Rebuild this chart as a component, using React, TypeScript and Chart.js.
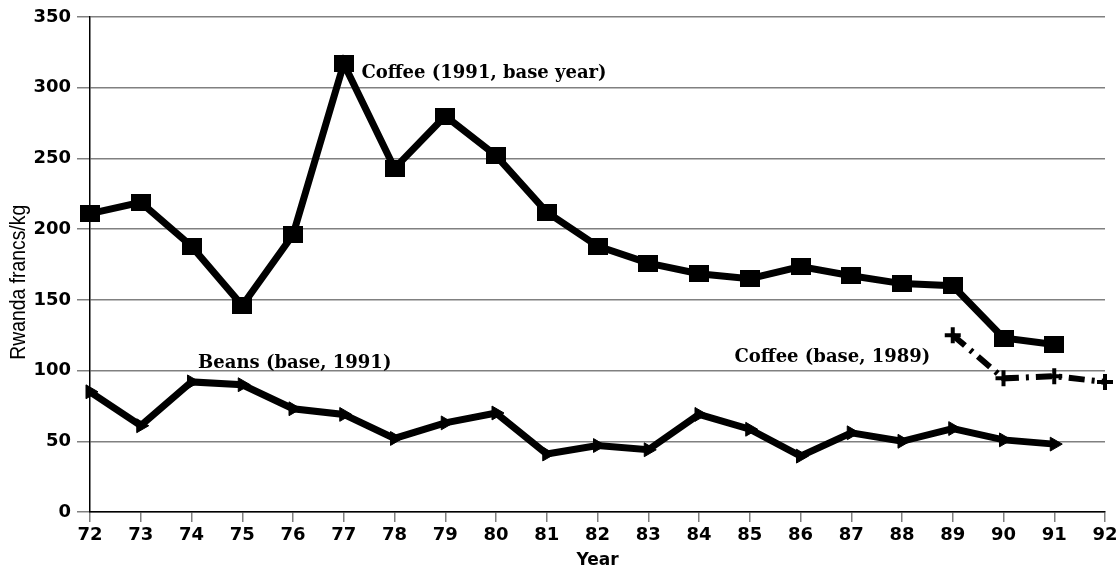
import React, { useEffect, useRef } from "react";
import { Chart, registerables } from "chart.js";

Chart.register(...registerables);

const years = [72, 73, 74, 75, 76, 77, 78, 79, 80, 81, 82, 83, 84, 85, 86, 87, 88, 89, 90, 91];
const coffee1991 = [211, 219, 188, 146, 196, 317, 243, 280, 252, 212, 188, 176, 168.5, 165, 173.5, 167, 161.5, 160, 123, 118.5];
const beans1991 = [85, 61, 92, 90, 73, 69, 52, 63, 70, 41, 47, 44, 69, 58.5, 39.5, 56, 50, 59, 51, 48];
const coffee1989Years = [89, 90, 91, 92];
const coffee1989 = [125, 94.5, 96, 92];

const labelTexts = ["Coffee (1991, base year)", "Beans (base, 1991)", "Coffee (base, 1989)"];
const labelX = [77.35, 74.13, 84.7];
const labelY = [307, 101.6, 105.9];

const yTicks = [0, 50, 100, 150, 200, 250, 300, 350];
const yTitle = "Rwanda francs/kg";

function makeRectPoint(): HTMLCanvasElement {
  const c = document.createElement("canvas");
  c.width = 20;
  c.height = 17;
  const g = c.getContext("2d")!;
  g.fillStyle = "#000";
  g.fillRect(0, 0, 20, 17);
  return c;
}

const labelPlugin = {
  id: "dataLabels",
  afterDatasetsDraw(chart: any) {
    const { ctx, scales, chartArea } = chart;
    ctx.save();
    ctx.fillStyle = "#000";
    ctx.font = "bold 18px 'DejaVu Serif'";
    ctx.textAlign = "left";
    ctx.textBaseline = "alphabetic";
    labelTexts.forEach((t, i) => {
      ctx.fillText(t, scales.x.getPixelForValue(labelX[i]), scales.y.getPixelForValue(labelY[i]));
    });
    ctx.restore();
    ctx.save();
    const cy = chartArea.top + 0.536 * (chartArea.bottom - chartArea.top);
    ctx.translate(19, cy);
    ctx.rotate(-Math.PI / 2);
    ctx.scale(0.88, 1);
    ctx.font = "22px 'Liberation Sans', Arial";
    ctx.fillStyle = "#000";
    ctx.textAlign = "center";
    ctx.textBaseline = "middle";
    ctx.fillText(yTitle, 0, 0);
    ctx.restore();
  },
};

export default function App() {
  const ref = useRef<HTMLCanvasElement>(null);
  useEffect(() => {
    document.body.style.margin = "0";
    const rectPt = makeRectPoint();
    const chart = new Chart(ref.current!, {
      type: "line",
      data: {
        datasets: [
          {
            label: "Coffee (1991, base year)",
            data: years.map((x, i) => ({ x, y: coffee1991[i] })),
            borderColor: "#000",
            backgroundColor: "#000",
            borderWidth: 7,
            pointStyle: rectPt as any,
            pointRadius: 10,
            tension: 0,
          },
          {
            label: "Beans (base, 1991)",
            data: years.map((x, i) => ({ x, y: beans1991[i] })),
            borderColor: "#000",
            backgroundColor: "#000",
            borderWidth: 7,
            pointStyle: "triangle",
            rotation: 90,
            pointRadius: 8,
            pointBorderWidth: 1,
            tension: 0,
          },
          {
            label: "Coffee (base, 1989)",
            data: coffee1989Years.map((x, i) => ({ x, y: coffee1989[i] })),
            borderColor: "#000",
            backgroundColor: "#000",
            borderWidth: 6,
            borderDash: [16, 7, 3, 7],
            pointStyle: "cross",
            pointRadius: 8,
            pointBorderWidth: 4,
            tension: 0,
          },
        ],
      },
      options: {
        animation: false,
        responsive: false,
        clip: false as any,
        layout: { autoPadding: false, padding: { top: 17, right: 13, left: 0, bottom: 0 } },
        plugins: { legend: { display: false }, tooltip: { enabled: false } },
        scales: {
          x: {
            type: "linear",
            min: 72,
            max: 92,
            afterFit: (axis: any) => {
              axis.height = 59;
              axis.paddingRight = 0;
              axis.paddingLeft = 0;
            },
            ticks: {
              stepSize: 1,
              color: "#000",
              font: { family: "'DejaVu Sans'", size: 18, weight: "bold" },
              padding: 3,
              maxRotation: 0,
              autoSkip: false,
              callback: (v: any) => String(v),
            },
            grid: { drawOnChartArea: false, drawTicks: true, tickLength: 10, color: "#808080", lineWidth: 1.5 },
            border: { color: "#000", width: 1.5 },
            title: {
              display: true,
              text: "Year",
              color: "#000",
              font: { family: "'DejaVu Sans'", size: 17, weight: "bold" },
              padding: { top: 0, bottom: 0 },
            },
          },
          y: {
            min: 0,
            max: 350,
            afterFit: (axis: any) => {
              axis.width = 90;
              axis.paddingTop = 0;
              axis.paddingBottom = 0;
            },
            afterBuildTicks: (axis: any) => {
              axis.ticks = yTicks.map((v) => ({ value: v }));
            },
            ticks: {
              color: "#000",
              font: { family: "'DejaVu Sans'", size: 18, weight: "bold" },
              padding: 6,
            },
            grid: { color: "#808080", lineWidth: 1.5, tickLength: 13 },
            border: { color: "#000", width: 1.5 },
            title: { display: false },
          },
        },
      },
      plugins: [labelPlugin],
    });
    return () => chart.destroy();
  }, []);
  return (
    <div style={{ position: "fixed", left: 0, top: 0, width: 1118, height: 571, background: "#fff" }}>
      <canvas ref={ref} width={1118} height={571} />
    </div>
  );
}
